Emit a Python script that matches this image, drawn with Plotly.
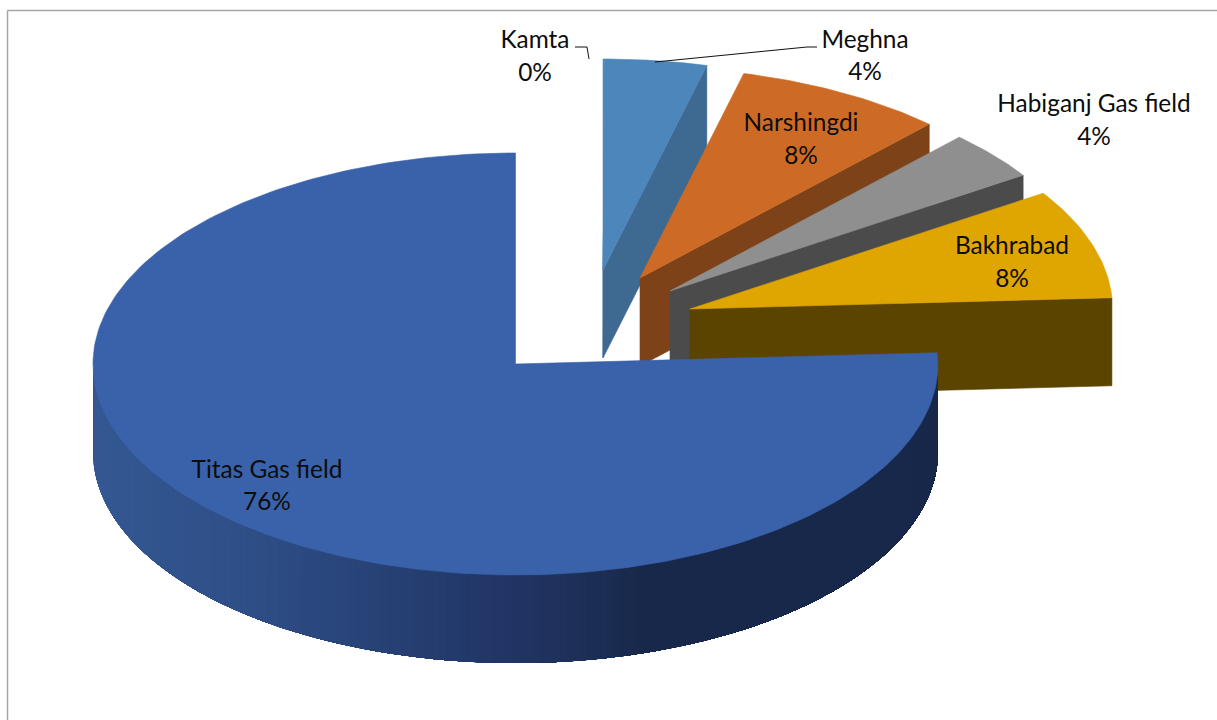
import math
import plotly.graph_objects as go

# ---- data (percent shares) ----
categories = ["Titas Gas field", "Kamta", "Meghna", "Narshingdi", "Habiganj Gas field", "Bakhrabad"]
values = [75.85, 0.1, 3.85, 8.05, 3.75, 8.4]

# ---- styling / layout (pixel-like axis units) ----
top_colors = ["#3A62AA", "#4F8ABF", "#4C86BB", "#CD6B26", "#8F8F8F", "#DFA500"]
side_colors = ["#17284A", "#3E6A92", "#3E6A92", "#7E4218", "#4B4B4B", "#5B4300"]
apex_x = [515.5, 603, 603, 640, 670, 690]
apex_y = [364, 270, 270, 278, 291, 309]
RX, RY, DEPTH = 422.5, 211, 88
label_x = [267, 535, 865, 801, 1094, 1012]
name_y = [472, 42, 42, 125, 106, 248]
pct_y = [504, 75, 74, 158, 139, 281]
grad_x = [93, 250, 400, 500, 570, 640, 940]
grad_rgb = [(52, 88, 146), (46, 78, 134), (38, 63, 114), (33, 53, 102), (30, 48, 89), (23, 40, 74), (23, 40, 74)]
FONT = "Lato"
FONT_SIZE = 24.4

fig = go.Figure()


def poly(xs, ys, color, name, lw=0.6):
    fig.add_trace(go.Scatter(x=xs, y=ys, mode="lines", fill="toself", fillcolor=color,
                             line=dict(color=color, width=lw), name=name,
                             hoverinfo="skip", showlegend=False))


def arc(cx, cy, a0, a1, n):
    xs, ys = [], []
    for i in range(n + 1):
        a = math.radians(a0 + (a1 - a0) * i / n)
        xs.append(cx + RX * math.cos(a))
        ys.append(cy - RY * math.sin(a))
    return xs, ys


def grad(x):
    for i in range(len(grad_x) - 1):
        if x <= grad_x[i + 1]:
            t = max(0.0, (x - grad_x[i]) / (grad_x[i + 1] - grad_x[i]))
            c = [round(p + (q - p) * t) for p, q in zip(grad_rgb[i], grad_rgb[i + 1])]
            return "rgb(%d,%d,%d)" % tuple(c)
    return "rgb(%d,%d,%d)" % grad_rgb[-1]


# slice angles, clockwise; the first slice ends at 12 o'clock
total = sum(values)
spans = [v / total * 360 for v in values]
ends, starts = [], []
cur = 90.0
for s in spans[1:]:
    starts.append(cur)
    cur -= s
    ends.append(cur)
titas_start = cur  # Titas runs clockwise from here round to 12 o'clock
titas_end = 90.0 - 360.0

# exploded slices, back to front
for i in range(1, 6):
    a0, a1 = starts[i - 1], ends[i - 1]
    cx, cy = apex_x[i], apex_y[i]
    ex = cx + RX * math.cos(math.radians(a1))
    ey = cy - RY * math.sin(math.radians(a1))
    poly([cx, ex, ex, cx, cx], [cy, ey, ey + DEPTH, cy + DEPTH, cy], side_colors[i], categories[i] + " side")
    ax, ay = arc(cx, cy, a0, a1, 30)
    poly([cx] + ax + [cx], [cy] + ay + [cy], top_colors[i], categories[i])

# Titas: shaded rim drawn left to right with overlapping strips, then top face
cx, cy = apex_x[0], apex_y[0]
n_strips = 200
rim_from = -180.0
rim_to = titas_start
for k in range(n_strips):
    a0 = rim_from + (rim_to - rim_from) * k / n_strips
    ax, ay = arc(cx, cy, a0, rim_to, max(2, (n_strips - k) // 2))
    xs = ax + ax[::-1] + [ax[0]]
    ys = ay + [y + DEPTH for y in ay[::-1]] + [ay[0]]
    poly(xs, ys, grad(ax[0]), categories[0] + " rim", lw=0)
ax, ay = arc(cx, cy, titas_start, titas_end, 240)
poly([cx] + ax + [cx], [cy] + ay + [cy], top_colors[0], categories[0])

# leader lines
fig.add_trace(go.Scatter(x=[575, 587, 589], y=[47, 47, 59], mode="lines",
                         line=dict(color="#111111", width=1), hoverinfo="skip", showlegend=False))
fig.add_trace(go.Scatter(x=[817, 807, 655], y=[47, 47, 62], mode="lines",
                         line=dict(color="#111111", width=1), hoverinfo="skip", showlegend=False))

# labels
fig.add_trace(go.Scatter(x=label_x, y=name_y, text=categories, mode="text", textposition="middle center",
                         textfont=dict(family=FONT, size=FONT_SIZE, color="#0d0d0d"),
                         hoverinfo="skip", showlegend=False))
fig.add_trace(go.Scatter(x=label_x, y=pct_y, text=[f"{round(v)}%" for v in values], mode="text",
                         textposition="middle center",
                         textfont=dict(family=FONT, size=FONT_SIZE, color="#0d0d0d"),
                         hoverinfo="skip", showlegend=False))

frame = dict(color="#A6A6A6", width=1.5)
fig.update_layout(
    width=1217, height=720, margin=dict(l=0, r=0, t=0, b=0),
    paper_bgcolor="white", plot_bgcolor="white", showlegend=False,
    xaxis=dict(range=[0, 1217], visible=False, fixedrange=True),
    yaxis=dict(range=[720, 0], visible=False, fixedrange=True),
    shapes=[
        dict(type="line", xref="x", yref="y", x0=7.5, y0=10.5, x1=1217, y1=10.5, line=frame),
        dict(type="line", xref="x", yref="y", x0=7.5, y0=10.5, x1=7.5, y1=720, line=frame),
    ],
)
fig.write_html("out.html", config={"displayModeBar": False},
               post_script="document.body.style.margin='0';document.body.style.overflow='hidden';")
